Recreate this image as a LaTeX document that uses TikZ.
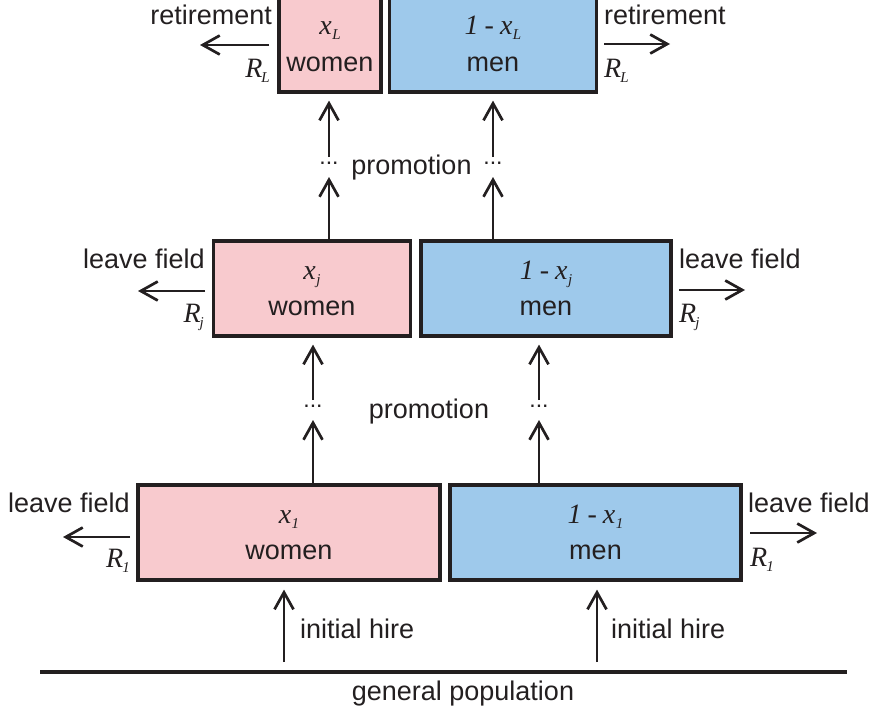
\documentclass[tikz,border=0pt]{standalone}
\usepackage{fontspec}
\setmainfont{Liberation Sans}
\newfontfamily\tms{Liberation Serif}
\usetikzlibrary{arrows.meta,calc}
\definecolor{pinkf}{RGB}{248,202,206}
\definecolor{bluef}{RGB}{158,201,235}
\definecolor{ink}{RGB}{35,31,32}
\newcommand\subs[1]{\raisebox{-0.4ex}{\fontsize{15}{15}\selectfont #1}}
\newcommand\vx[1]{{\tms\itshape x\kern0.5pt\subs{#1}}}
\newcommand\onem{{\tms\itshape 1}\kern6pt{\tms -}\kern6pt}
\newcommand\rr[1]{{\tms\itshape R\kern-1pt\subs{#1}}}
\tikzset{
  box/.style={draw=ink, line width=3.2pt, inner sep=0pt},
  wbox/.style={box, fill=pinkf},
  mbox/.style={box, fill=bluef},
  lbl/.style={font=\fontsize{27}{30}\selectfont, text=ink, inner sep=0pt},
  mlbl/.style={font=\fontsize{28}{30}\selectfont, text=ink, inner sep=0pt},
  dotl/.style={font=\fontsize{23}{24}\selectfont, text=ink, inner sep=0pt},
  arr/.style={draw=ink, line width=2.7pt, -{Straight Barb[length=17pt,width=19pt]}},
}
\begin{document}
\begin{tikzpicture}[x=1pt,y=-1pt]
\useasboundingbox (0,0) rectangle (872,715);
% ---------- top row ----------
\node[wbox, minimum width=102pt, minimum height=97pt] (wL) at (330,43.5) {};
\node[mbox, minimum width=207pt, minimum height=97pt] (mL) at (493,43.5) {};
\node[mlbl, anchor=base] (wLx) at ($(wL.center)+(0,-9)$) {\vx{L}};
\node[lbl, anchor=base] (wLt) at ($(wL.center)+(0,27.5)$) {women};
\node[mlbl, anchor=base] (mLx) at ($(mL.center)+(0,-9)$) {\onem\vx{L}};
\node[lbl, anchor=base] (mLt) at ($(mL.center)+(0,27.5)$) {men};
\node[lbl, anchor=base east] (retl) at (272,24) {retirement};
\node[lbl, anchor=base west] (retr) at (604,24) {retirement};
\coordinate (aLl0) at (269,45); \coordinate (aLl1) at (200,45);
\coordinate (aLr0) at (604,44); \coordinate (aLr1) at (670,44);
\draw[arr] (aLl0) -- (aLl1);
\draw[arr] (aLr0) -- (aLr1);
\node[mlbl, anchor=base east] (RLl) at (270,77) {\rr{L}};
\node[mlbl, anchor=base west] (RLr) at (604,77) {\rr{L}};
% ---------- middle row ----------
\node[wbox, minimum width=197pt, minimum height=95pt] (wj) at (312,288.5) {};
\node[mbox, minimum width=250pt, minimum height=95pt] (mj) at (546,288.5) {};
\node[mlbl, anchor=base] (wjx) at ($(wj.center)+(0,-9)$) {\vx{j}};
\node[lbl, anchor=base] (wjt) at ($(wj.center)+(0,26.5)$) {women};
\node[mlbl, anchor=base] (mjx) at ($(mj.center)+(0,-9)$) {\onem\vx{j}};
\node[lbl, anchor=base] (mjt) at ($(mj.center)+(0,26.5)$) {men};
\node[lbl, anchor=base east] (lfjl) at (205,268) {leave field};
\node[lbl, anchor=base west] (lfjr) at (679,268) {leave field};
\coordinate (ajl0) at (205,291); \coordinate (ajl1) at (138,291);
\coordinate (ajr0) at (679,290); \coordinate (ajr1) at (745,290);
\draw[arr] (ajl0) -- (ajl1);
\draw[arr] (ajr0) -- (ajr1);
\node[mlbl, anchor=base east] (Rjl) at (204,322) {\rr{j}};
\node[mlbl, anchor=base west] (Rjr) at (679,322) {\rr{j}};
% ---------- bottom row ----------
\node[wbox, minimum width=302pt, minimum height=95pt] (w1) at (289,532.5) {};
\node[mbox, minimum width=291pt, minimum height=95pt] (m1) at (595.5,532.5) {};
\node[mlbl, anchor=base] (w1x) at ($(w1.center)+(0,-9)$) {\vx{1}};
\node[lbl, anchor=base] (w1t) at ($(w1.center)+(0,26.5)$) {women};
\node[mlbl, anchor=base] (m1x) at ($(m1.center)+(0,-9)$) {\onem\vx{1}};
\node[lbl, anchor=base] (m1t) at ($(m1.center)+(0,26.5)$) {men};
\node[lbl, anchor=base east] (lf1l) at (130,512) {leave field};
\node[lbl, anchor=base west] (lf1r) at (748,512) {leave field};
\coordinate (a1l0) at (130,537); \coordinate (a1l1) at (63,537);
\coordinate (a1r0) at (750,533); \coordinate (a1r1) at (817,533);
\draw[arr] (a1l0) -- (a1l1);
\draw[arr] (a1r0) -- (a1r1);
\node[mlbl, anchor=base east] (R1l) at (130,567) {\rr{1}};
\node[mlbl, anchor=base west] (R1r) at (750,566) {\rr{1}};
% ---------- promotion (top) ----------
\node[dotl] (dwu) at (329,163) {...};
\node[dotl] (dmu) at (493,163) {...};
\node[lbl] (pu) at (411.5,168) {promotion};
\coordinate (dwu0) at (329,157); \coordinate (dwu1) at (329,177);
\coordinate (dmu0) at (493,157); \coordinate (dmu1) at (493,177);
\draw[arr] (dwu0) -- ($(dwu0 |- wL.south)+(0,7)$);
\draw[arr] (dwu1 |- wj.north) -- (dwu1);
\draw[arr] (dmu0) -- ($(dmu0 |- mL.south)+(0,7)$);
\draw[arr] (dmu1 |- mj.north) -- (dmu1);
% ---------- promotion (lower) ----------
\node[dotl] (dwl) at (313,406) {...};
\node[dotl] (dml) at (539,406) {...};
\node[lbl] (pl) at (429,412) {promotion};
\coordinate (dwl0) at (313,400); \coordinate (dwl1) at (313,420);
\coordinate (dml0) at (539,400); \coordinate (dml1) at (539,420);
\draw[arr] (dwl0) -- ($(dwl0 |- wj.south)+(0,7)$);
\draw[arr] (dwl1 |- w1.north) -- (dwl1);
\draw[arr] (dml0) -- ($(dml0 |- mj.south)+(0,7)$);
\draw[arr] (dml1 |- m1.north) -- (dml1);
% ---------- initial hire ----------
\coordinate (hw0) at (284,662); \coordinate (hm0) at (597,662);
\draw[arr] (hw0) -- ($(hw0 |- w1.south)+(0,8)$);
\draw[arr] (hm0) -- ($(hm0 |- m1.south)+(0,8)$);
\node[lbl, anchor=base west] (ihw) at (300,638) {initial hire};
\node[lbl, anchor=base west] (ihm) at (611,638) {initial hire};
\coordinate (gp0) at (40,672); \coordinate (gp1) at (847,672);
\draw[draw=ink, line width=4pt] (gp0) -- (gp1);
\node[lbl, anchor=base] (gp) at (463,700) {general population};
\end{tikzpicture}
\end{document}
